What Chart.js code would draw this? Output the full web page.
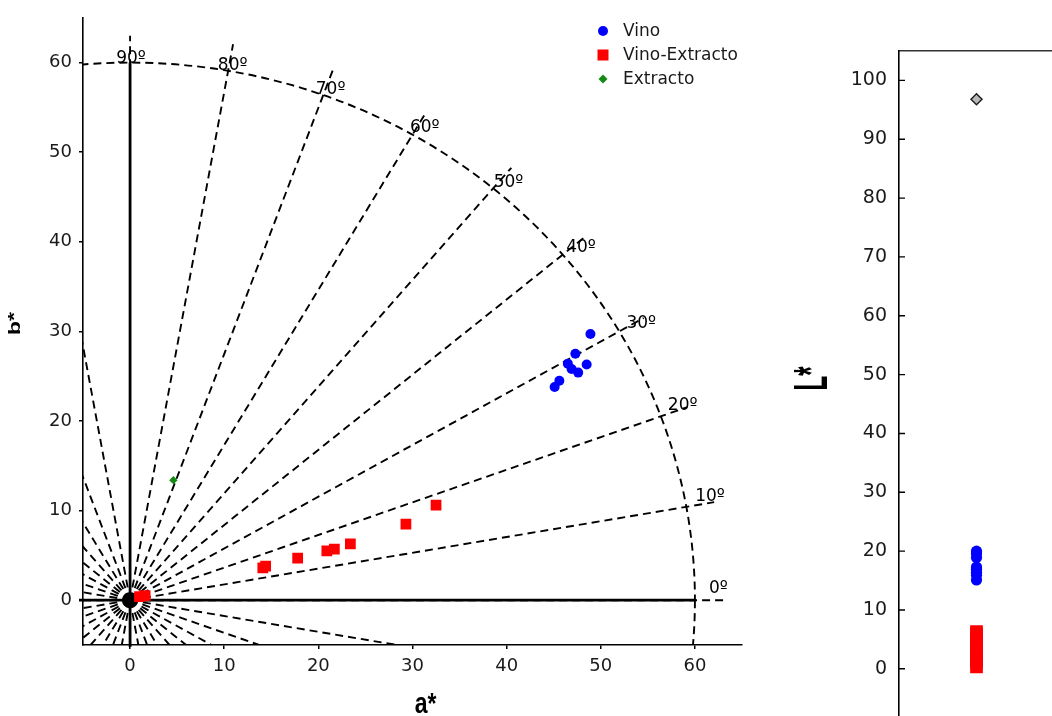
<!DOCTYPE html>
<html><head><meta charset="utf-8">
<script src="https://cdn.jsdelivr.net/npm/chart.js@4.4.1/dist/chart.umd.min.js"></script>
<style>
html,body{margin:0;padding:0;background:#fff;overflow:hidden;width:1052px;height:716px;position:relative;}
#w1{position:absolute;left:0;top:0;width:780px;height:716px;}
#w2{position:absolute;left:780px;top:0;width:283px;height:751px;}
</style></head><body>
<div id="w1"><canvas id="c1"></canvas></div>
<div id="w2"><canvas id="c2"></canvas></div>
<script>
// ---- data ----
const seriesNames = ['Vino', 'Vino-Extracto', 'Extracto'];
const vinoA = [48.9, 47.3, 46.5, 46.9, 47.6, 48.5, 45.6, 45.1];
const vinoB = [29.7, 27.5, 26.4, 25.8, 25.4, 26.3, 24.5, 23.8];
const vinoL = [20.0, 19.6, 18.9, 17.3, 16.9, 16.4, 15.9, 15.1];
const veA = [1.0, 1.6, 14.1, 14.4, 17.8, 20.9, 21.7, 23.4, 29.3, 32.5];
const veB = [0.4, 0.5, 3.6, 3.8, 4.7, 5.5, 5.7, 6.3, 8.5, 10.6];
const veL = [0.3, 1.1, 1.6, 2.4, 3.3, 3.7, 4.6, 5.2, 5.9, 6.3];
const exA = [4.6];
const exB = [13.4];
const exL = [96.8];
// axes
const abRange = [-5, 65];
const abTicks = [0, 10, 20, 30, 40, 50, 60];
const lRange = [-10, 105];
const lTicks = [0, 10, 20, 30, 40, 50, 60, 70, 80, 90, 100];
// hue-angle guides
const guideAngles = [0,10,20,30,40,50,60,70,80,90,100,110,120,130,140,150,160,170,180,190,200,210,220,230,240,250,260,270,280,290,300,310,320,330,340,350];
const guideRadius = 63;
const arcRadius = 60;
const angleLabels = ['90º','80º','70º','60º','50º','40º','30º','20º','10º','0º'];
const angleLabelA = [0.1, 10.9, 21.3, 31.3, 40.2, 47.9, 54.3, 58.7, 61.6, 62.5];
const angleLabelB = [60.4, 59.7, 57.0, 52.7, 46.6, 39.3, 30.9, 21.7, 11.6, 1.3];

const FONT = 'DejaVu Sans';
const TXT = '#1a1a1a';
Chart.defaults.font.family = FONT;
Chart.defaults.animation = false;

function toXY(a, b) { return a.map((v, i) => ({x: v, y: b[i]})); }
function atOne(l) { return l.map(v => ({x: 1, y: v})); }
function fixedTicks(vals) { return s => { s.ticks = vals.map(v => ({value: v})); }; }

function stretchedText(ctx, text, font, x, y, rot, sy) {
  ctx.save();
  ctx.translate(x, y);
  ctx.rotate(rot);
  ctx.scale(1, sy);
  ctx.font = font;
  ctx.fillStyle = '#000';
  ctx.textAlign = 'center';
  ctx.textBaseline = 'alphabetic';
  ctx.fillText(text, 0, 0);
  ctx.restore();
}

const guidePlugin = {
  id: 'guides',
  beforeDatasetsDraw(chart) {
    const {ctx, chartArea: ca, scales: {x, y}} = chart;
    const px = v => x.getPixelForValue(v), py = v => y.getPixelForValue(v);
    ctx.save();
    ctx.beginPath();
    ctx.rect(ca.left, ca.top, ca.right - ca.left, ca.bottom - ca.top);
    ctx.clip();
    ctx.strokeStyle = '#000';
    ctx.lineWidth = 1.9;
    ctx.setLineDash([8, 5]);
    guideAngles.forEach(d => {
      const r = d * Math.PI / 180;
      ctx.beginPath();
      ctx.moveTo(px(0), py(0));
      ctx.lineTo(px(guideRadius * Math.cos(r)), py(guideRadius * Math.sin(r)));
      ctx.stroke();
    });
    ctx.beginPath();
    ctx.ellipse(px(0), py(0), px(arcRadius) - px(0), py(0) - py(arcRadius), 0, 0, 2 * Math.PI);
    ctx.stroke();
    ctx.restore();
    ctx.save();
    ctx.strokeStyle = '#000';
    ctx.lineWidth = 2.8;
    ctx.beginPath();
    ctx.moveTo(px(0), py(abRange[0]) + 2); ctx.lineTo(px(0), py(arcRadius));
    ctx.moveTo(px(abRange[0]) - 4, py(0)); ctx.lineTo(px(arcRadius), py(0));
    ctx.stroke();
    ctx.font = '17px ' + FONT;
    ctx.fillStyle = '#000';
    ctx.textAlign = 'center';
    ctx.textBaseline = 'middle';
    angleLabels.forEach((t, i) => ctx.fillText(t, px(angleLabelA[i]), py(angleLabelB[i])));
    ctx.restore();
  },
  afterDraw(chart) {
    const {ctx, chartArea: ca} = chart;
    stretchedText(ctx, 'a*', 'bold 23px "Liberation Sans"', 425.5, 713, 0, 1.27);
    stretchedText(ctx, 'b*', 'bold 23px "Liberation Sans"', 20, 323.5, -Math.PI / 2, 0.75);
    const lx = ca.left + 520, tx = ca.left + 540;
    const rows = [31, 55, 79];
    ctx.save();
    const ds = chart.data.datasets;
    ctx.fillStyle = ds[0].backgroundColor;
    ctx.beginPath(); ctx.arc(lx, rows[0], 5, 0, 2 * Math.PI); ctx.fill();
    ctx.fillStyle = ds[1].backgroundColor;
    ctx.fillRect(lx - 5.5, rows[1] - 5.5, 11, 11);
    ctx.fillStyle = ds[2].backgroundColor;
    ctx.beginPath(); ctx.moveTo(lx - 4.5, rows[2]); ctx.lineTo(lx, rows[2] - 4.5); ctx.lineTo(lx + 4.5, rows[2]); ctx.lineTo(lx, rows[2] + 4.5); ctx.closePath(); ctx.fill();
    ctx.font = '17px ' + FONT;
    ctx.fillStyle = TXT;
    ctx.textAlign = 'left';
    ctx.textBaseline = 'middle';
    ds.forEach((d, i) => ctx.fillText(d.label, tx, rows[i] + 1));
    ctx.restore();
  }
};

new Chart(document.getElementById('c1'), {
  type: 'scatter',
  data: {
    datasets: [
      {label: seriesNames[0], data: toXY(vinoA, vinoB), backgroundColor: '#0000ff', borderWidth: 0, pointRadius: 5, pointStyle: 'circle'},
      {label: seriesNames[1], data: toXY(veA, veB), backgroundColor: '#ff0000', borderWidth: 0, pointRadius: 7.6, pointStyle: 'rect'},
      {label: seriesNames[2], data: toXY(exA, exB), backgroundColor: '#138a13', borderWidth: 0, pointRadius: 4.2, pointStyle: 'rectRot'}
    ]
  },
  options: {
    responsive: true, maintainAspectRatio: false, events: [],
    layout: {padding: {left: 0, top: 15, right: 38, bottom: 0}},
    plugins: {legend: {display: false}, tooltip: {enabled: false}},
    scales: {
      x: {type: 'linear', min: abRange[0], max: abRange[1],
        afterBuildTicks: fixedTicks(abTicks),
        ticks: {color: TXT, font: {size: 18}, padding: 7, maxRotation: 0, autoSkip: false},
        grid: {display: true, drawOnChartArea: false, drawTicks: true, tickLength: 4, color: '#000', lineWidth: 1.5},
        border: {display: true, color: '#000', width: 1.6},
        afterFit(s) { s.height = 71; }},
      y: {type: 'linear', min: abRange[0], max: abRange[1],
        afterBuildTicks: fixedTicks(abTicks),
        ticks: {color: TXT, font: {size: 18}, padding: 7, autoSkip: false},
        grid: {display: true, drawOnChartArea: false, drawTicks: true, tickLength: 4, color: '#000', lineWidth: 1.5},
        border: {display: true, color: '#000', width: 1.6},
        afterFit(s) { s.width = 83; }}
    }
  },
  plugins: [guidePlugin]
});

const lPlugin = {
  id: 'lplug',
  afterDraw(chart) {
    const {ctx, chartArea: ca, scales: {y}} = chart;
    ctx.save();
    ctx.strokeStyle = '#000';
    ctx.lineWidth = 1.4;
    ctx.beginPath();
    y.ticks.forEach(t => {
      const p = y.getPixelForValue(t.value);
      ctx.moveTo(ca.left, p); ctx.lineTo(ca.left + 6, p);
    });
    ctx.stroke();
    ctx.restore();
    stretchedText(ctx, 'L*', 'bold 24px "Liberation Sans"', 47, 378.5, -Math.PI / 2, 2.04);
  }
};

new Chart(document.getElementById('c2'), {
  type: 'scatter',
  data: {
    datasets: [
      {label: seriesNames[2], data: atOne(exL), backgroundColor: '#b8b8b8', borderColor: '#222', borderWidth: 1.5, pointRadius: 5.5, pointStyle: 'rectRot'},
      {label: seriesNames[0], data: atOne(vinoL), backgroundColor: '#0000ff', borderWidth: 0, pointRadius: 5.6, pointStyle: 'circle'},
      {label: seriesNames[1], data: atOne(veL), backgroundColor: '#ff0000', borderWidth: 0, pointRadius: 9, pointStyle: 'rect'}
    ]
  },
  options: {
    responsive: true, maintainAspectRatio: false, events: [],
    layout: {padding: {left: 0, top: 51, right: 0, bottom: 0}},
    plugins: {legend: {display: false}, tooltip: {enabled: false}},
    scales: {
      x: {type: 'linear', position: 'top', min: 0, max: 2,
        ticks: {display: false}, grid: {display: false, drawTicks: false},
        border: {display: true, color: '#333', width: 1.5},
        afterFit(s) { s.height = 0; }},
      y: {type: 'linear', min: lRange[0], max: lRange[1],
        afterBuildTicks: fixedTicks(lTicks),
        ticks: {color: TXT, font: {size: 19}, padding: 12, autoSkip: false},
        grid: {display: false, drawTicks: false},
        border: {display: true, color: '#000', width: 1.6},
        afterFit(s) { s.width = 119; }}
    }
  },
  plugins: [lPlugin]
});
</script>
</body></html>
